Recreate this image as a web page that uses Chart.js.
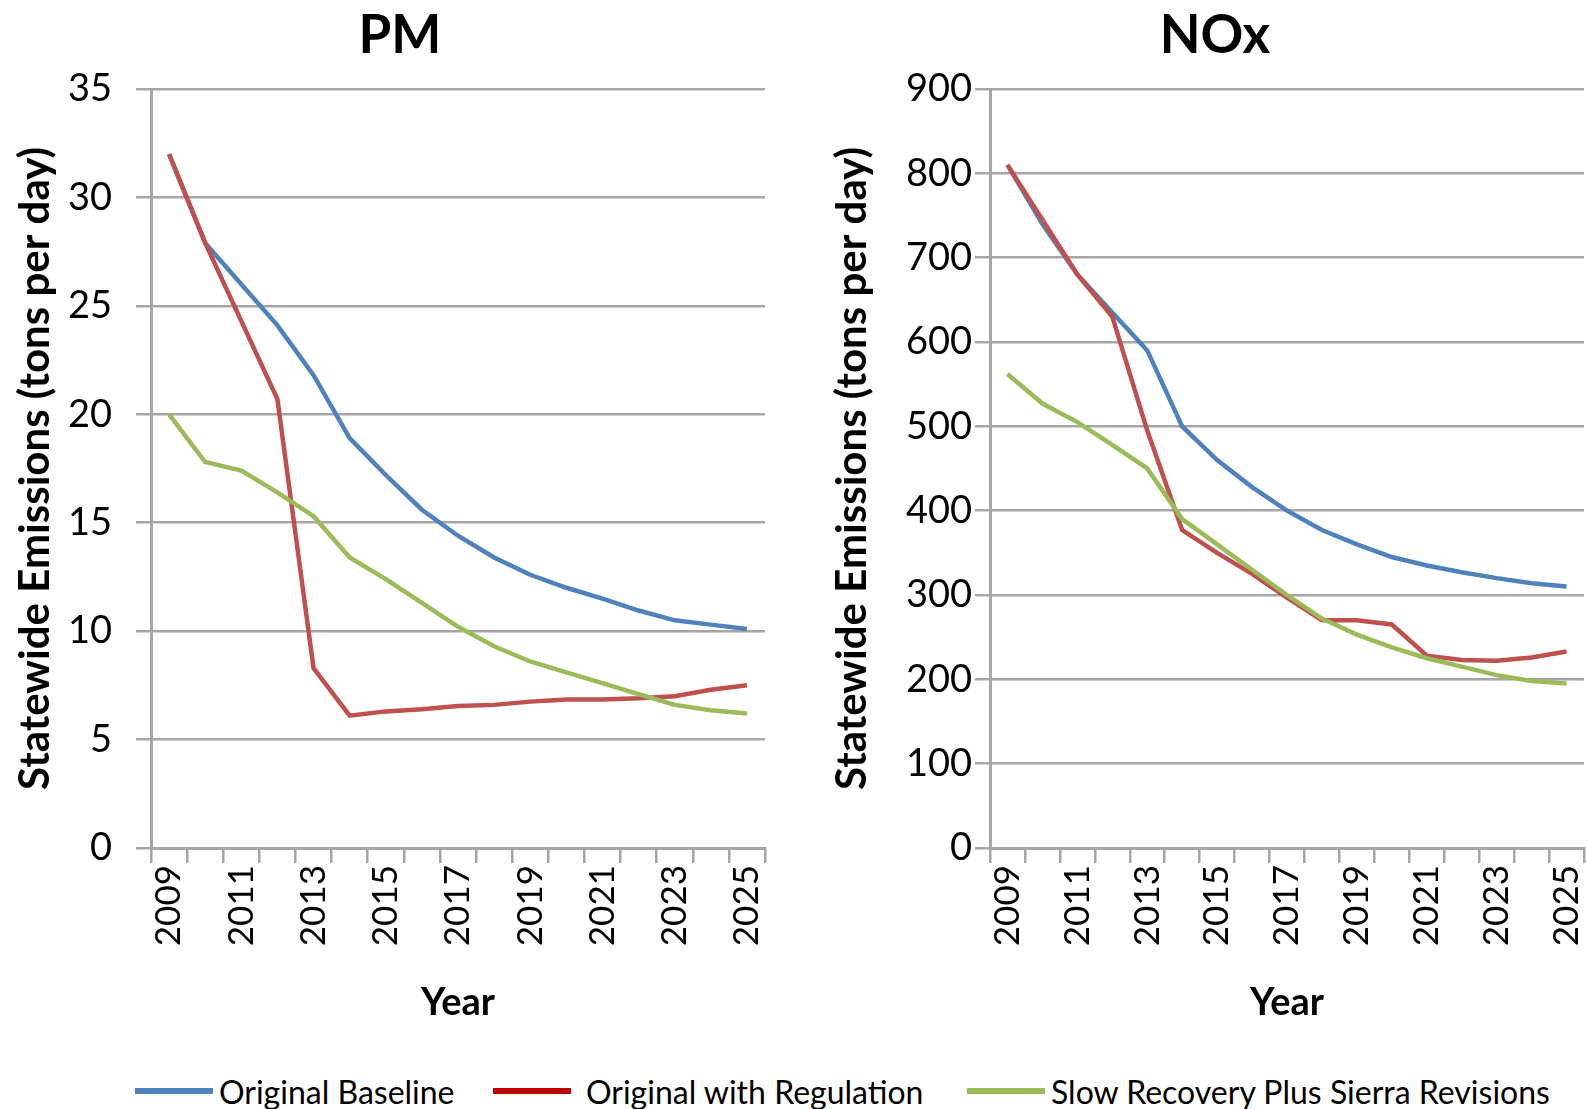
<!DOCTYPE html>
<html>
<head>
<meta charset="utf-8">
<script src="https://cdn.jsdelivr.net/npm/chart.js@4.4.0/dist/chart.umd.min.js"></script>
<style>
  html, body { margin: 0; padding: 0; background: #fff; overflow: hidden; }
  body { width: 1587px; height: 1109px; position: relative; font-family: Lato, sans-serif; }
  .cw { position: absolute; top: 0; }
  #w1 { left: 0; width: 800px; height: 1040px; }
  #w2 { left: 800px; width: 830px; height: 1040px; }
  .lg { position: absolute; top: 1072px; height: 38px; display: flex; align-items: center; font-size: 32px; color: #000; white-space: nowrap; }
  .sw { width: 78px; height: 6px; margin-right: 6px; }
</style>
</head>
<body>
<div class="cw" id="w1"><canvas id="c1"></canvas></div>
<div class="cw" id="w2"><canvas id="c2"></canvas></div>
<div class="lg" style="left:135px"><div class="sw" style="background:#4F81BD"></div><span>Original Baseline</span></div>
<div class="lg" style="left:493px"><div class="sw" style="background:#C00000;margin-right:15px"></div><span>Original with Regulation</span></div>
<div class="lg" style="left:967px"><div class="sw" style="background:#9BBB59"></div><span>Slow Recovery Plus Sierra Revisions</span></div>
<script>
const years = ['2009','2010','2011','2012','2013','2014','2015','2016','2017','2018','2019','2020','2021','2022','2023','2024','2025'];

const pmBaseline   = [32.0, 27.9, 26.0, 24.1, 21.8, 18.9, 17.2, 15.6, 14.4, 13.4, 12.6, 12.0, 11.5, 10.95, 10.5, 10.3, 10.1];
const pmRegulation = [32.0, 27.9, 24.3, 20.7, 8.3, 6.1, 6.3, 6.4, 6.55, 6.6, 6.75, 6.85, 6.85, 6.9, 7.0, 7.3, 7.5];
const pmSlow       = [20.0, 17.8, 17.4, 16.4, 15.3, 13.4, 12.4, 11.3, 10.2, 9.3, 8.6, 8.1, 7.6, 7.1, 6.6, 6.35, 6.2];

const noxBaseline   = [810, 740, 680, 635, 590, 500, 460, 428, 400, 377, 360, 345, 335, 327, 320, 314, 310];
const noxRegulation = [810, 745, 680, 630, 495, 377, 350, 325, 297, 270, 270, 265, 228, 223, 222, 226, 233];
const noxSlow       = [562, 527, 505, 478, 450, 390, 360, 330, 300, 272, 253, 238, 225, 215, 205, 198, 195];

const seriesNames = ['Original Baseline', 'Original with Regulation', 'Slow Recovery Plus Sierra Revisions'];
const seriesColors = ['#4F81BD', '#C0504D', '#9BBB59'];

const pmTicks = { min: 0, max: 35, step: 5 };
const noxTicks = { min: 0, max: 900, step: 100 };

function makeChart(id, title, data, tk, yWidth, rightSpace, yTitlePad, tickPad) {
  const ds = data.map((d, i) => ({
    label: seriesNames[i],
    data: d,
    borderColor: seriesColors[i],
    backgroundColor: seriesColors[i],
    borderWidth: 4.5,
    pointRadius: 0,
    tension: 0,
    order: 2 - i
  }));
  return new Chart(document.getElementById(id), {
    type: 'line',
    data: { labels: years, datasets: ds },
    options: {
      responsive: true,
      maintainAspectRatio: false,
      animation: false,
      layout: { padding: 0 },
      plugins: {
        legend: { display: false },
        tooltip: { enabled: false },
        title: {
          display: true, text: title, color: '#000',
          font: { family: 'Lato', size: 53, weight: 'bold', lineHeight: 1 },
          padding: { top: 9, bottom: 27 }
        }
      },
      scales: {
        x: {
          type: 'category',
          offset: true,
          grid: { display: true, drawOnChartArea: false, drawTicks: true, tickLength: 15, offset: true, color: '#A6A6A6', lineWidth: 2.5 },
          border: { display: true, color: '#A6A6A6', width: 3 },
          ticks: {
            autoSkip: false, minRotation: 90, maxRotation: 90, padding: 2, color: '#000',
            font: { family: 'Lato', size: 35 },
            callback: function(v, i) { return i % 2 === 0 ? years[i] : ''; }
          },
          title: { display: true, text: 'Year', color: '#000', font: { family: 'Lato', size: 38, weight: 'bold', lineHeight: 1.2 }, padding: { top: 0, bottom: 14 } },
          afterFit: s => { s.height = 192; }
        },
        y: {
          min: tk.min, max: tk.max,
          grid: { color: '#A6A6A6', lineWidth: 2.5, tickLength: 15, drawTicks: true },
          border: { display: true, color: '#A6A6A6', width: 3 },
          ticks: { stepSize: tk.step, padding: tickPad, color: '#000', font: { family: 'Lato', size: 38 } },
          title: { display: true, text: 'Statewide Emissions (tons per day)', color: '#000', font: { family: 'Lato', size: 42, weight: 'bold', lineHeight: 1.2 }, padding: { top: yTitlePad, bottom: 0 } },
          afterFit: s => { s.width = yWidth; }
        },
        ySpace: {
          type: 'linear', position: 'right', display: true,
          grid: { display: false, drawTicks: false },
          border: { display: false },
          ticks: { display: false },
          afterFit: s => { s.width = rightSpace; }
        }
      }
    }
  });
}

makeChart('c1', 'PM', [pmBaseline, pmRegulation, pmSlow], pmTicks, 151, 35, 10, 24);
makeChart('c2', 'NOx', [noxBaseline, noxRegulation, noxSlow], noxTicks, 190, 46, 27, 3);
</script>
</body>
</html>
